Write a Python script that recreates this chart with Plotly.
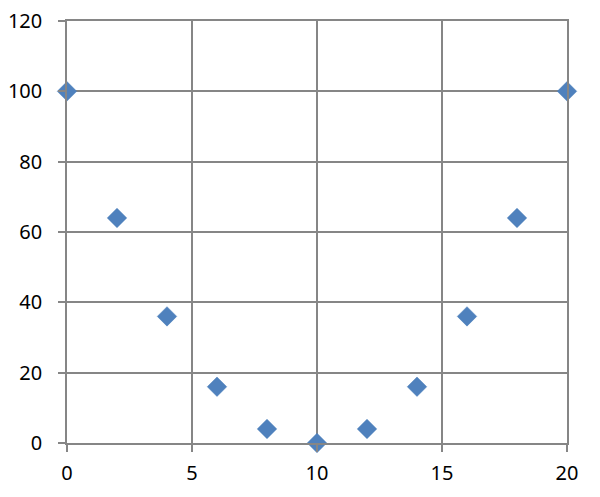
import plotly.graph_objects as go

x_vals = [0, 2, 4, 6, 8, 10, 12, 14, 16, 18, 20]
y_vals = [100, 64, 36, 16, 4, 0, 4, 16, 36, 64, 100]

grid = "#868686"
fig = go.Figure(go.Scatter(
    x=x_vals, y=y_vals, mode="markers",
    marker=dict(symbol="diamond", size=15, color="#4F81BD",
                line=dict(color="#4A7EBB", width=0.5)),
    cliponaxis=False,
))
axis_common = dict(showgrid=True, gridcolor=grid, gridwidth=1.5,
                   showline=True, linecolor=grid, linewidth=1.5,
                   ticks="outside", ticklen=7, tickcolor=grid, tickwidth=1.5,
                   zeroline=False, mirror=True, automargin=False,
                   ticklabeloverflow="allow",
                   tickfont=dict(family="Noto Sans, Open Sans, sans-serif", size=20, color="#000000"))
fig.update_xaxes(range=[0, 20], dtick=5, tick0=0, ticklabelstandoff=4, **axis_common)
fig.update_yaxes(range=[0, 120], dtick=20, tick0=0, ticklabelstandoff=12, **axis_common)
fig.update_layout(width=600, height=497, plot_bgcolor="white", paper_bgcolor="white",
                  margin=dict(l=58.5, r=41.3, t=12.7, b=61.7), showlegend=False)
fig.write_html("out.html")
